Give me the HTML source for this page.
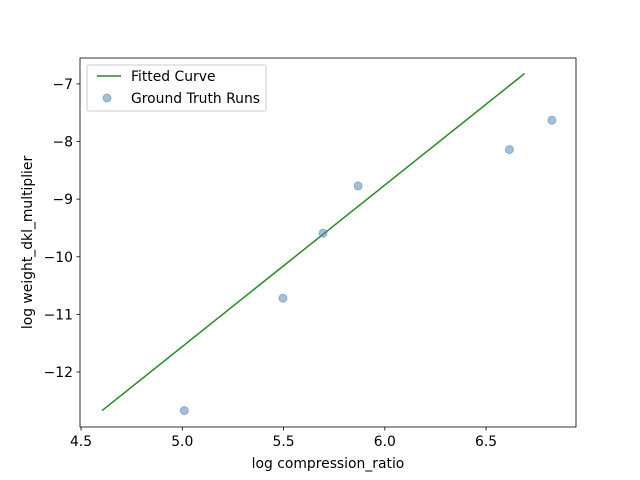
<!DOCTYPE html>
<html><head><meta charset="utf-8"><style>body{margin:0;background:#fff}svg{display:block}text{font-family:"DejaVu Sans","Liberation Sans",sans-serif;font-size:13.9px;fill:#000}</style></head>
<body>
<svg id="chart" width="640" height="480"></svg>
<script>
const xTicks=[4.5,5.0,5.5,6.0,6.5];
const xTickLabels=["4.5","5.0","5.5","6.0","6.5"];
const yTicks=[-7,-8,-9,-10,-11,-12];
const yTickLabels=["\u22127","\u22128","\u22129","\u221210","\u221211","\u221212"];
const pointsX=[5.01,5.497,5.695,5.868,6.615,6.825];
const pointsY=[-12.67,-10.72,-9.59,-8.77,-8.14,-7.63];
const lineX=[4.604,6.69];
const lineY=[-12.67,-6.82];
const L=80,R=576,T=58,B=427,x0=4.495,x1=6.944,y0=-12.955,y1=-6.55;
const sx=v=>L+(v-x0)/(x1-x0)*(R-L);
const sy=v=>B-(v-y0)/(y1-y0)*(B-T);
const svg=document.getElementById('chart');const NS='http://www.w3.org/2000/svg';
function mk(t,a,p){const e=document.createElementNS(NS,t);for(const k in a)e.setAttribute(k,a[k]);(p||svg).appendChild(e);return e;}
let e;
xTicks.forEach((v,i)=>{
e=mk('line',{x1:sx(v),x2:sx(v),y1:B,y2:B+3.5,stroke:'#000','stroke-width':0.8});


e=mk('text',{x:sx(v),y:B+19,'text-anchor':'middle'});e.textContent=xTickLabels[i];


});
yTicks.forEach((v,i)=>{
e=mk('line',{x1:L-3.5,x2:L,y1:sy(v),y2:sy(v),stroke:'#000','stroke-width':0.8});


e=mk('text',{x:L-7,y:sy(v)+5,'text-anchor':'end'});e.textContent=yTickLabels[i];


});
e=mk('polyline',{points:lineX.map((v,i)=>sx(v)+','+sy(lineY[i])).join(' '),fill:'none',stroke:'#228b22','stroke-width':1.5});


pointsX.forEach((v,i)=>{
e=mk('circle',{cx:sx(v),cy:sy(pointsY[i]),r:4,fill:'#4682b4','fill-opacity':0.5,stroke:'#4682b4','stroke-opacity':0.5});


});
e=mk('rect',{x:L,y:T,width:R-L,height:B-T,fill:'none',stroke:'#000','stroke-width':0.8});


e=mk('text',{x:(L+R)/2,y:468,'text-anchor':'middle'});e.textContent='log compression_ratio';


e=mk('text',{x:32,y:(T+B)/2,'text-anchor':'middle',transform:'rotate(-90 32 '+(T+B)/2+')'});e.textContent='log weight_dkl_multiplier';


const g=mk('g',{});


mk('rect',{x:87,y:65,width:179,height:46,rx:2,fill:'#fff','fill-opacity':0.8,stroke:'#ccc'},g);
e=mk('line',{x1:97,x2:121,y1:76,y2:76,stroke:'#228b22','stroke-width':1.5},g);


e=mk('text',{x:131,y:81},g);e.textContent='Fitted Curve';


e=mk('circle',{cx:107,cy:98,r:4,fill:'#4682b4','fill-opacity':0.5,stroke:'#4682b4','stroke-opacity':0.5},g);


e=mk('text',{x:131,y:103},g);e.textContent='Ground Truth Runs';


</script>
</body></html>
